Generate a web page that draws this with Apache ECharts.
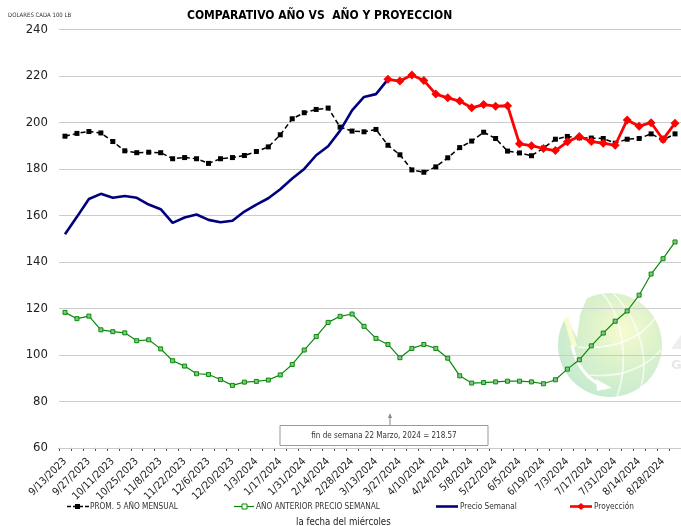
<!DOCTYPE html>
<html><head><meta charset="utf-8">
<style>html,body{margin:0;padding:0;background:#fff}#c{width:681px;height:526px}</style>
<script src="https://cdn.jsdelivr.net/npm/echarts@6/dist/echarts.min.js"></script>
</head><body><div id="c"></div>
<script>
const categories = ["9/13/2023","9/20/2023","9/27/2023","10/4/2023","10/11/2023","10/18/2023","10/25/2023","11/1/2023","11/8/2023","11/15/2023","11/22/2023","11/29/2023","12/6/2023","12/13/2023","12/20/2023","12/27/2023","1/3/2024","1/10/2024","1/17/2024","1/24/2024","1/31/2024","2/7/2024","2/14/2024","2/21/2024","2/28/2024","3/6/2024","3/13/2024","3/20/2024","3/27/2024","4/3/2024","4/10/2024","4/17/2024","4/24/2024","5/1/2024","5/8/2024","5/15/2024","5/22/2024","5/29/2024","6/5/2024","6/12/2024","6/19/2024","6/26/2024","7/3/2024","7/10/2024","7/17/2024","7/24/2024","7/31/2024","8/7/2024","8/14/2024","8/21/2024","8/28/2024","9/4/2024"];
const prom5 = [194.1,195.3,196.1,195.5,191.8,187.8,187,187.2,187,184.4,184.9,184.4,182.4,184.4,184.9,185.8,187.5,189.5,194.7,201.6,204.2,205.6,206.2,198,196.3,196,197,190.2,186.1,179.6,178.6,180.9,184.8,189.2,192,195.8,193.1,187.7,186.9,185.7,189,192.8,194,193.4,193.3,193.1,191.1,192.8,193.1,195.1,192.5,195.1];
const anoAnterior = [118.3,115.6,116.7,110.8,110,109.5,106.1,106.5,102.6,97.5,95.2,91.9,91.6,89.4,86.9,88.3,88.6,89.2,91.4,95.9,102.1,107.9,114,116.6,117.6,112.3,107.1,104.5,98.8,102.8,104.5,102.8,98.6,91,87.9,88.1,88.4,88.7,88.7,88.4,87.6,89.3,93.9,97.9,103.9,109.4,114.5,118.9,125.7,134.8,141.4,148.6];
const precioSemanal = [151.9,159.4,167.1,169.3,167.6,168.4,167.6,164.7,162.7,156.8,159.1,160.4,158.1,157.1,157.7,161.7,164.7,167.4,171.3,175.9,180,185.9,189.8,196.5,205.2,211,212.2,218.57];
const proyeccionStart = 27;
const proyeccion = [218.57,217.8,220.4,218.1,212.2,210.6,209.2,206.3,207.7,207,207.2,190.8,190,188.8,187.9,191.7,194,191.8,191.1,190.2,201.1,198.4,199.9,192.7,199.7];
const names = ["PROM. 5 AÑO MENSUAL","AÑO ANTERIOR PRECIO SEMANAL","Precio Semanal","Proyección"];
const FONT = "'DejaVu Sans Condensed','DejaVu Sans',sans-serif";
const chart = echarts.init(document.getElementById('c'), null, {renderer:'canvas'});
const white = {fill:'none',stroke:'#ffffff',lineWidth:1.6,opacity:0.7};
const curve = (x1,y1,cpx1,cpy1,cpx2,cpy2,x2,y2,style) => ({type:'bezierCurve',shape:{x1,y1,cpx1,cpy1,cpx2,cpy2,x2,y2},style});
const globe = {
  type:'group', silent:true, children:[
    {type:'circle', shape:{cx:610,cy:345,r:52}, style:{fill:{type:'radial',x:0.63,y:0.36,r:0.66,colorStops:[{offset:0,color:'#f7fbcf'},{offset:0.5,color:'#dcf2cb'},{offset:1,color:'#c8ebd0'}]}}},
    {type:'polygon', shape:{points:[[550,285],[597,285],[587,298],[580,315],[577,338],[570,324],[565,317],[558,325]]}, style:{fill:'#ffffff'}},
    curve(566,318,570,330,572,340,575,347,{fill:'none',stroke:'#f8fbd0',lineWidth:5}),
    curve(572,345,576,365,586,378,602,386,{fill:'none',stroke:'#ffffff',lineWidth:3}),
    {type:'polygon', shape:{points:[[596,379],[612,388],[597,391]]}, style:{fill:'#ffffff'}},
    curve(602,293,622,315,630,360,617,397,white),
    curve(612,292,640,320,650,360,640,390,white),
    curve(578,347,610,350,640,340,655,318,white),
    curve(590,375,620,378,645,368,661,350,white),
    {type:'text', style:{x:671,y:359,text:'G',fill:'#e8e8e8',font:"bold 13px 'DejaVu Sans'"}},
    {type:'polygon', shape:{points:[[671,349],[681,349],[681,335]]}, style:{fill:'#eeeeee'}}
  ]
};
chart.setOption({
  animation:false,
  backgroundColor:'#ffffff',
  title:[
    {text:'COMPARATIVO AÑO VS  AÑO Y PROYECCION',left:187,top:10,padding:0,textStyle:{fontFamily:FONT,fontWeight:'bold',fontSize:12,color:'#000'}},
    {text:'DOLARES CADA 100 LB',left:8,top:12,padding:0,textStyle:{fontFamily:FONT,fontWeight:'normal',fontSize:6,color:'#333'}}
  ],
  grid:{left:59,top:29.5,width:625.6,height:418.4,containLabel:false},
  xAxis:{type:'category',data:categories,boundaryGap:true,
    axisLine:{lineStyle:{color:'#555',width:1}},
    axisTick:{show:true,length:3,interval:0,alignWithLabel:false,lineStyle:{color:'#444'}},
    axisLabel:{interval:1,rotate:45,fontFamily:FONT,fontSize:10.5,color:'#222',margin:12},
    splitLine:{show:false}},
  yAxis:{type:'value',min:60,max:240,interval:20,z:2,
    axisLine:{show:false},axisTick:{show:false},
    axisLabel:{fontFamily:FONT,fontSize:13,color:'#222',margin:11},
    splitLine:{lineStyle:{color:'#cccccc',width:1.2}}},
  legend:{show:false},
  series:[
    {name:names[0],type:'line',data:prom5,z:3,showAllSymbol:true,symbol:'rect',symbolSize:5,lineStyle:{color:'#000',width:1.5,type:[5,3]},itemStyle:{color:'#000'}},
    {name:names[1],type:'line',data:anoAnterior,z:3,showAllSymbol:true,symbol:'rect',symbolSize:4,lineStyle:{color:'#0a8a0a',width:1.2},itemStyle:{color:'#7fc87f',borderColor:'#0a8a0a',borderWidth:1}},
    {name:names[2],type:'line',data:precioSemanal,z:4,symbol:'none',lineStyle:{color:'#00007f',width:2.6}},
    {name:names[3],type:'line',data:categories.map((c,i)=> i<proyeccionStart ? null : proyeccion[i-proyeccionStart]),z:5,showAllSymbol:true,symbol:'diamond',symbolSize:9,lineStyle:{color:'#ff0000',width:2.8},itemStyle:{color:'#ff0000'}}
  ],
  graphic:[
    globe,
    {type:'text',z:6,style:{x:296,y:517,text:'la fecha del miércoles',fill:'#222',font:"9.6px "+FONT}},
    {type:'rect',z:6,shape:{x:280,y:425.5,width:208,height:20},style:{fill:'#fff',stroke:'#999',lineWidth:1}},
    {type:'text',z:7,style:{x:384,y:435.5,text:'fin de semana 22 Marzo, 2024 = 218.57',align:'center',verticalAlign:'middle',fill:'#333',font:"8px "+FONT}},
    {type:'line',z:6,shape:{x1:390,y1:425,x2:390,y2:415},style:{stroke:'#888',lineWidth:1}},
    {type:'polygon',z:6,shape:{points:[[390,413],[388,418],[392,418]]},style:{fill:'#888'}},
    {type:'line',z:6,shape:{x1:67,y1:506.5,x2:89,y2:506.5},style:{stroke:'#000',lineWidth:1.5,lineDash:[4,2]}},
    {type:'rect',z:6,shape:{x:75,y:504,width:5,height:5},style:{fill:'#000'}},
    {type:'text',z:6,style:{x:90,y:507,text:names[0],verticalAlign:'middle',fill:'#333',font:"8.2px "+FONT}},
    {type:'line',z:6,shape:{x1:234,y1:506.5,x2:254,y2:506.5},style:{stroke:'#0a8a0a',lineWidth:1.2}},
    {type:'rect',z:6,shape:{x:242,y:504,width:5,height:5},style:{fill:'#fff',stroke:'#0a8a0a',lineWidth:1}},
    {type:'text',z:6,style:{x:256,y:507,text:names[1],verticalAlign:'middle',fill:'#333',font:"8.2px "+FONT}},
    {type:'line',z:6,shape:{x1:436,y1:506.5,x2:458,y2:506.5},style:{stroke:'#00007f',lineWidth:2.6}},
    {type:'text',z:6,style:{x:460,y:507,text:names[2],verticalAlign:'middle',fill:'#333',font:"8.2px "+FONT}},
    {type:'line',z:6,shape:{x1:570,y1:506.5,x2:592,y2:506.5},style:{stroke:'#ff0000',lineWidth:2.6}},
    {type:'polygon',z:6,shape:{points:[[581,503],[585,506.5],[581,510],[577,506.5]]},style:{fill:'#ff0000'}},
    {type:'text',z:6,style:{x:594,y:507,text:names[3],verticalAlign:'middle',fill:'#333',font:"8.2px "+FONT}}
  ]
});
</script></body></html>
